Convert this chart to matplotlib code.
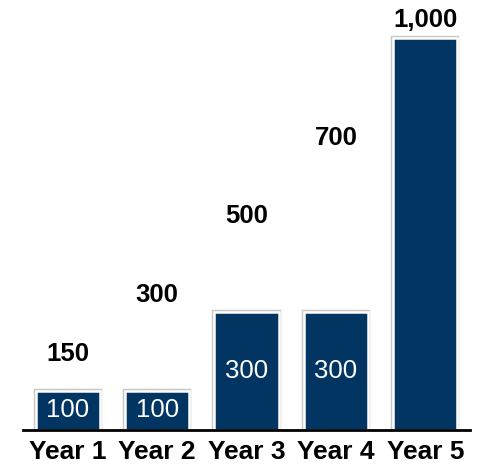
import matplotlib
matplotlib.use("Agg")
import matplotlib.pyplot as plt
import matplotlib.patheffects as pe

categories = ["Year 1", "Year 2", "Year 3", "Year 4", "Year 5"]
bar_values = [100, 100, 300, 300, 1000]
inner_labels = ["100", "100", "300", "300", ""]
totals = [150, 300, 500, 700, 1000]
total_labels = ["150", "300", "500", "700", "1,000"]

plt.rcParams['font.family'] = ['Liberation Sans', 'DejaVu Sans']

fig = plt.figure(figsize=(4.85, 4.66), dpi=100)
ax = fig.add_axes([23/485, 1 - 430/466, (470-23)/485, 420/466])

x = list(range(len(categories)))
bars = ax.bar(x, bar_values, width=0.72, color="#023562", edgecolor="white",
              linewidth=1.8, zorder=2)
for b in bars:
    b.set_path_effects([pe.withStroke(linewidth=3.2, foreground="#c8c8c8")])

for xi, v, lab in zip(x, bar_values, inner_labels):
    if lab:
        ax.text(xi, v / 2, lab, ha="center", va="center", color="white",
                fontsize=18.5, zorder=3)

for xi, t, lab in zip(x, totals, total_labels):
    ax.text(xi, t + 14, lab, ha="center", va="bottom", color="black",
            fontsize=18.5, fontweight="bold", zorder=3)

ax.set_xlim(-0.5, 4.5)
ax.set_ylim(0, 1071)
ax.set_xticks(x)
ax.set_xticklabels(categories, fontsize=19, fontweight="bold")
ax.tick_params(axis="x", length=0, pad=7.5)
ax.set_yticks([])
for s in ["top", "right", "left"]:
    ax.spines[s].set_visible(False)
ax.spines["bottom"].set_linewidth(2)
ax.spines["bottom"].set_zorder(4)

fig.savefig("out.png", dpi=100)
